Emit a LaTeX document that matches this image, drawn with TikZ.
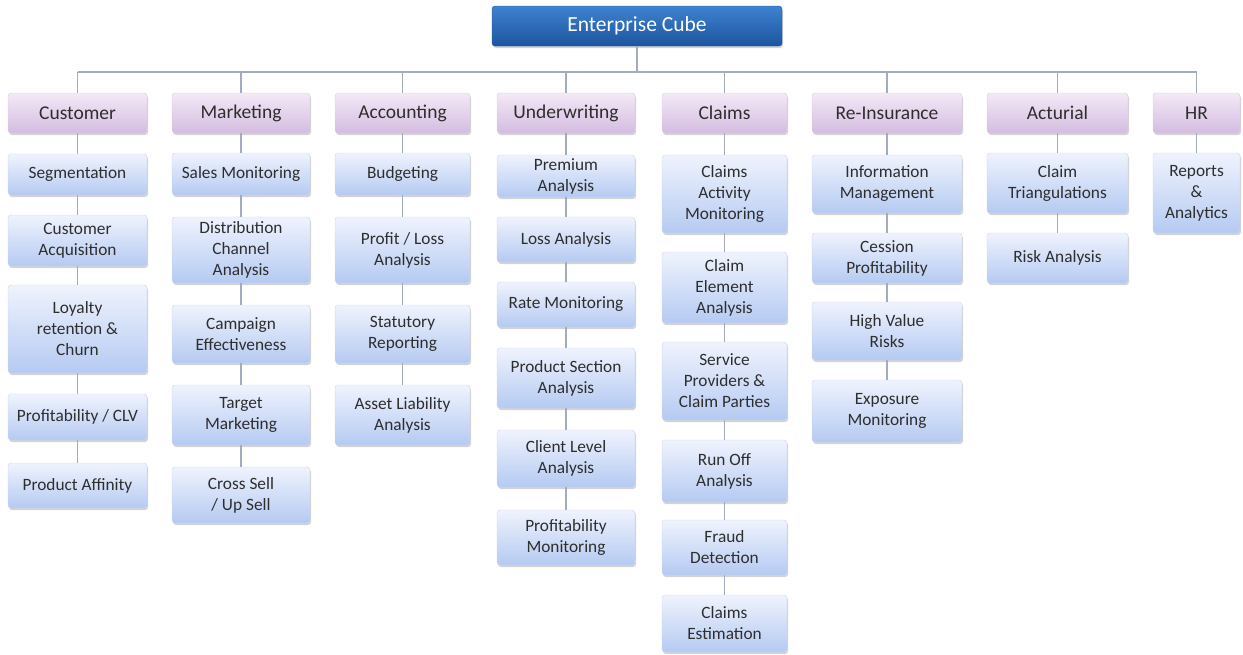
\documentclass[tikz,border=0pt]{standalone}
\usepackage{fontspec}
\setmainfont{Carlito}
\usetikzlibrary{shadows}
\definecolor{txt}{HTML}{2E2E2E}
\definecolor{linec}{HTML}{A3ACBE}
\definecolor{hdtop}{HTML}{F4E9F7}
\definecolor{hdbot}{HTML}{D4BCE0}
\definecolor{hdedge}{HTML}{D9CCE2}
\definecolor{chtop}{HTML}{EFF3FD}
\definecolor{chbot}{HTML}{B5CAF2}
\definecolor{chedge}{HTML}{CBD6EC}
\definecolor{rttop}{HTML}{3E82D0}
\definecolor{rtbot}{HTML}{1D549E}
\tikzset{
  basebox/.style={rectangle, rounded corners=3pt, align=center, inner sep=1pt,
    drop shadow={opacity=0.35, shadow xshift=1pt, shadow yshift=-2pt}},
  rootbox/.style={basebox, top color=rttop, bottom color=rtbot, draw=rtbot,
    text=white, font=\fontsize{21.5}{25}\selectfont, minimum width=290pt, minimum height=40pt},
  headbox/.style={basebox, top color=hdtop, bottom color=hdbot, draw=hdedge,
    text=txt, font=\fontsize{19.5}{23}\selectfont, minimum height=40pt},
  childbox/.style={basebox, top color=chtop, bottom color=chbot, draw=chedge,
    text=txt, font=\fontsize{17.3}{21}\selectfont},
  conn/.style={draw=linec, line width=1.4pt}
}
\begin{document}
\begin{tikzpicture}[x=1pt,y=-1pt]
\useasboundingbox (0,0) rectangle (1243,654);
% root
\node[rootbox] (root) at (637,26) {Enterprise Cube};
% headers
\node[headbox, minimum width=139pt] (h1) at (77.5,113) {Customer};
\node[headbox, minimum width=138pt] (h2) at (241,113) {Marketing};
\node[headbox, minimum width=135pt] (h3) at (402.5,113) {Accounting};
\node[headbox, minimum width=138pt] (h4) at (566,113) {Underwriting};
\node[headbox, minimum width=125pt] (h5) at (724.5,113) {Claims};
\node[headbox, minimum width=150pt] (h6) at (887,113) {Re-Insurance};
\node[headbox, minimum width=141pt] (h7) at (1057.5,113) {Acturial};
\node[headbox, minimum width=87pt] (h8) at (1196.5,113) {HR};
% bus
\coordinate (bus) at (637,72);
\coordinate (busL) at (77.5,72);
\coordinate (busR) at (1196.5,72);
% Customer
\node[childbox, minimum width=139pt, minimum height=41pt] (c1) at (77.5,174.5) {Segmentation};
\node[childbox, minimum width=139pt, minimum height=51pt] (c2) at (77.5,240.5) {Customer\\Acquisition};
\node[childbox, minimum width=139pt, minimum height=88pt] (c3) at (77.5,329) {Loyalty\\retention \&\\Churn};
\node[childbox, minimum width=139pt, minimum height=46pt] (c4) at (77.5,417) {Profitability / CLV};
\node[childbox, minimum width=139pt, minimum height=45pt] (c5) at (77.5,485.5) {Product Affinity};
% Marketing
\node[childbox, minimum width=138pt, minimum height=42pt] (m1) at (241,174) {Sales Monitoring};
\node[childbox, minimum width=138pt, minimum height=66pt] (m2) at (241,250) {Distribution\\Channel\\Analysis};
\node[childbox, minimum width=138pt, minimum height=58pt] (m3) at (241,334) {Campaign\\Effectiveness};
\node[childbox, minimum width=138pt, minimum height=60pt] (m4) at (241,415) {Target\\Marketing};
\node[childbox, minimum width=138pt, minimum height=56pt] (m5) at (241,495) {Cross Sell\\/ Up Sell};
% Accounting
\node[childbox, minimum width=135pt, minimum height=42pt] (a1) at (402.5,174) {Budgeting};
\node[childbox, minimum width=135pt, minimum height=66pt] (a2) at (402.5,250) {Profit / Loss\\Analysis};
\node[childbox, minimum width=135pt, minimum height=58pt] (a3) at (402.5,334) {Statutory\\Reporting};
\node[childbox, minimum width=135pt, minimum height=60pt] (a4) at (402.5,415) {Asset Liability\\Analysis};
% Underwriting
\node[childbox, minimum width=138pt, minimum height=42pt] (u1) at (566,176) {Premium\\Analysis};
\node[childbox, minimum width=138pt, minimum height=45pt] (u2) at (566,239.5) {Loss Analysis};
\node[childbox, minimum width=138pt, minimum height=45pt] (u3) at (566,304.5) {Rate Monitoring};
\node[childbox, minimum width=138pt, minimum height=60pt] (u4) at (566,378) {Product Section\\Analysis};
\node[childbox, minimum width=138pt, minimum height=57pt] (u5) at (566,458.5) {Client Level\\Analysis};
\node[childbox, minimum width=138pt, minimum height=55pt] (u6) at (566,537.5) {Profitability\\Monitoring};
% Claims
\node[childbox, minimum width=125pt, minimum height=78pt] (k1) at (724.5,194) {Claims\\Activity\\Monitoring};
\node[childbox, minimum width=125pt, minimum height=71pt] (k2) at (724.5,287.5) {Claim\\Element\\Analysis};
\node[childbox, minimum width=125pt, minimum height=78pt] (k3) at (724.5,381) {Service\\Providers \&\\Claim Parties};
\node[childbox, minimum width=125pt, minimum height=62pt] (k4) at (724.5,471) {Run Off\\Analysis};
\node[childbox, minimum width=125pt, minimum height=55pt] (k5) at (724.5,547.5) {Fraud\\Detection};
\node[childbox, minimum width=125pt, minimum height=57pt] (k6) at (724.5,623.5) {Claims\\Estimation};
% Re-Insurance
\node[childbox, minimum width=150pt, minimum height=58pt] (r1) at (887,184) {Information\\Management};
\node[childbox, minimum width=150pt, minimum height=50pt] (r2) at (887,258) {Cession\\Profitability};
\node[childbox, minimum width=150pt, minimum height=58pt] (r3) at (887,331) {High Value\\Risks};
\node[childbox, minimum width=150pt, minimum height=62pt] (r4) at (887,411) {Exposure\\Monitoring};
% Acturial
\node[childbox, minimum width=141pt, minimum height=60pt] (t1) at (1057.5,183) {Claim\\Triangulations};
\node[childbox, minimum width=141pt, minimum height=50pt] (t2) at (1057.5,258) {Risk Analysis};
% HR
\node[childbox, minimum width=87pt, minimum height=80pt] (x1) at (1196.5,193) {Reports\\\&\\Analytics};
% connectors
\draw[conn] (root.south) -- (bus);
\draw[conn] (busL) -- (busR);
\foreach \h in {h1,h2,h3,h4,h5,h6,h7,h8}
  \draw[conn] (\h.north |- bus) -- (\h.north);
\foreach \a/\b in {h1/c1,c1/c2,c2/c3,c3/c4,c4/c5,
                   h2/m1,m1/m2,m2/m3,m3/m4,m4/m5,
                   h3/a1,a1/a2,a2/a3,a3/a4,
                   h4/u1,u1/u2,u2/u3,u3/u4,u4/u5,u5/u6,
                   h5/k1,k1/k2,k2/k3,k3/k4,k4/k5,k5/k6,
                   h6/r1,r1/r2,r2/r3,r3/r4,
                   h7/t1,t1/t2,
                   h8/x1}
  \draw[conn] (\a.south) -- (\b.north);
\end{tikzpicture}
\end{document}
